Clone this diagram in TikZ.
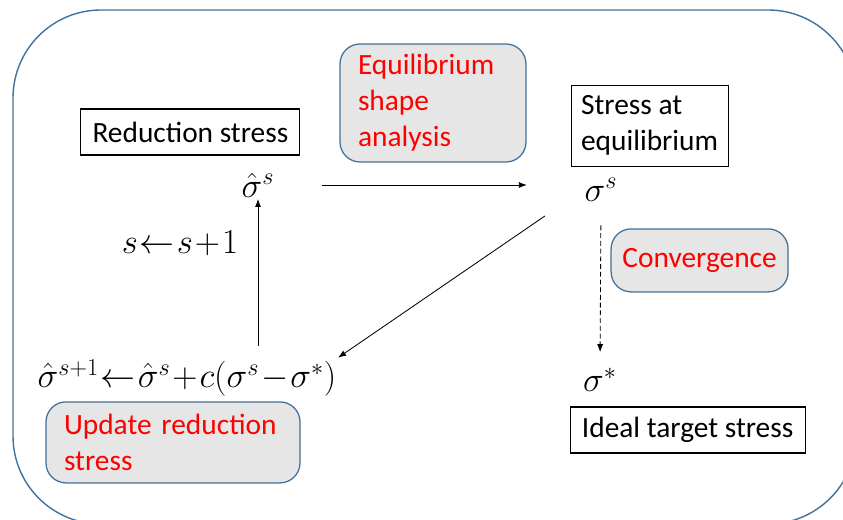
\documentclass[tikz,border=0pt]{standalone}
\usepackage{fontspec}
\setmainfont{Carlito}
\usetikzlibrary{arrows.meta,positioning,calc}
\definecolor{frame}{HTML}{41719C}
\definecolor{note}{HTML}{E7E6E6}
\definecolor{alert}{HTML}{FF0000}
\newcommand\tightmath{\medmuskip=1mu\relax\thickmuskip=1mu\relax}

\begin{document}
\begin{tikzpicture}[>={Latex[length=2mm,width=1.5mm]},line width=0.6pt,
  font=\fontsize{20.9}{25.6}\selectfont,
  tagbox/.style={draw=black,line width=0.8pt,inner xsep=0.25cm,inner ysep=0pt,align=left},
  notebox/.style={rounded corners=0.5cm,draw=frame,line width=0.9pt,fill=note,text=alert,
    align=left,inner xsep=0.45cm,inner ysep=0pt},
  sym/.style={inner sep=1pt,font=\fontsize{23}{26}\selectfont\tightmath}]
  \useasboundingbox (0,0) rectangle (21.075,13);
  \clip (0,0) rectangle (21.075,13);
  % outer frame
  \draw[frame,line width=1pt,rounded corners=2.2cm] (0.325,12.75) rectangle (21.4,-0.1);

  % labels
  \node[tagbox,minimum width=5.475cm,minimum height=1.15cm] (reduce) at (4.76,9.7) {Reduction stress};
  \node[tagbox,minimum height=2.025cm] (equil) at (16.24,9.86) {Stress at\\equilibrium};
  \node[tagbox,minimum width=5.875cm,minimum height=1.15cm] (ideal) at (17.19,2.25) {Ideal target stress};

  % red notes
  \node[notebox,text width=3.75cm,minimum height=2.95cm] (shape) at (10.825,10.425) {Equilibrium\\shape\\analysis};
  \node[notebox,inner xsep=0.25cm,minimum width=4.425cm,minimum height=1.575cm] (conv) at (17.49,6.49) {Convergence};
  \node[notebox,text width=5.45cm,minimum height=2.025cm] (update) at (4.325,1.94) {Update reduction\\stress};

  % stresses
  \node[sym] (hatS) at (6.45,8.375) {$\hat{\sigma}^{s}$};
  \node[sym] (sigS) at (15.025,8.25) {$\sigma^{s}$};
  \node[sym] (sigStar) at (15.0,3.5) {$\sigma^{*}$};
  \node[sym] (incr) at (4.5,6.925) {$s\leftarrow s+1$};
  \node[sym] (formula) at (4.675,3.55) {$\hat{\sigma}^{s+1}\leftarrow\hat{\sigma}^{s}+c(\sigma^{s}-\sigma^{*})$};

  \draw[->,shorten <=1.15cm,shorten >=1.4cm] (hatS.east) -- (hatS.east -| sigS.west);
  \draw[->,shorten <=1.15cm] (sigS.west) -- (formula.north east);
  \draw[->,shorten <=0.3cm] (formula.north -| hatS.south) -- (hatS.south);
  \draw[->,dashed,dash pattern=on 3.5pt off 2pt,shorten <=0.55cm,shorten >=0.35cm] (sigS.south) -- (sigStar.north);
\end{tikzpicture}
\end{document}
